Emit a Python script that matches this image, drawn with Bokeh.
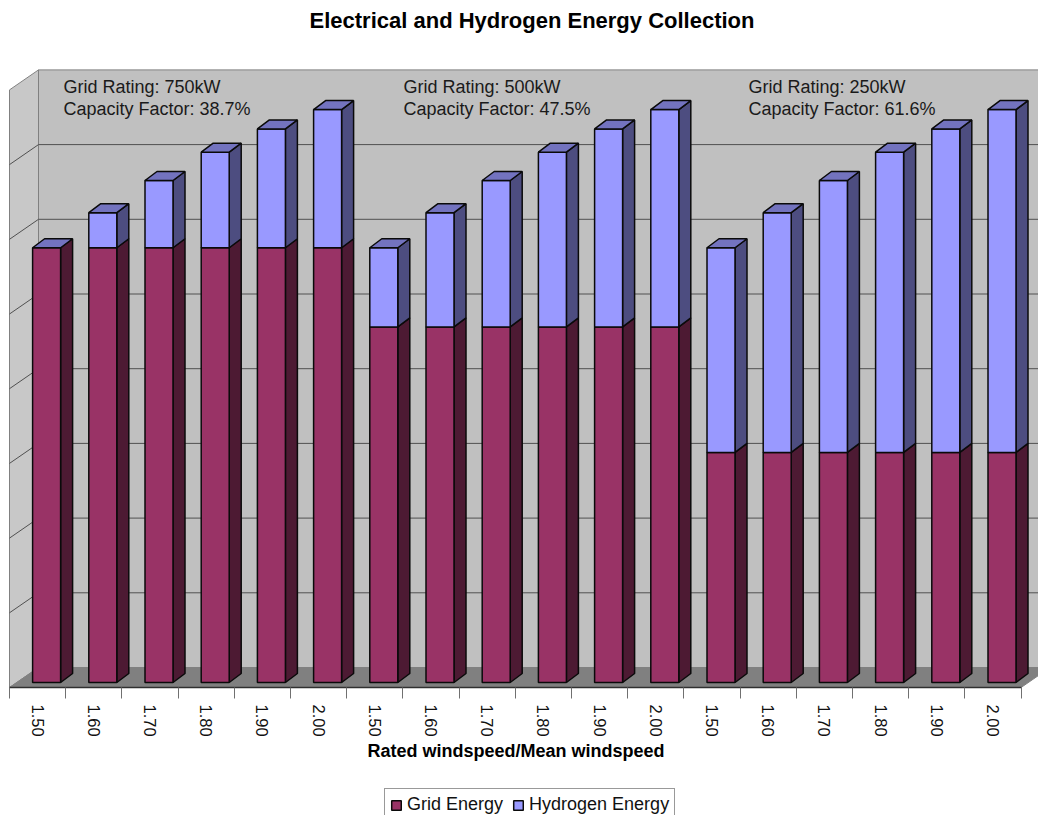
import numpy as np
from bokeh.plotting import figure
from bokeh.models import (ColumnDataSource, FixedTicker, Legend, LegendItem, Range1d, Label)
from bokeh.embed import file_html
from bokeh.resources import INLINE

speeds = ["1.50", "1.60", "1.70", "1.80", "1.90", "2.00"] * 3
grid_energy = [5.82] * 6 + [4.76] * 6 + [3.08] * 6
hydrogen_energy = [0.00, 0.47, 0.90, 1.28, 1.59, 1.85,
                   1.06, 1.53, 1.96, 2.34, 2.65, 2.91,
                   2.74, 3.21, 3.64, 4.02, 4.33, 4.59]
notes = [("Grid Rating: 750kW", "Capacity Factor: 38.7%"),
         ("Grid Rating: 500kW", "Capacity Factor: 47.5%"),
         ("Grid Rating: 250kW", "Capacity Factor: 61.6%")]

PX_X, PX_Y = 56.2, 74.7
W, H = 1038, 815
X0, Y0 = 9, 687     # picture position of the value 0 / first category edge
WALL_DX, WALL_DY = 29 / PX_X, 20 / PX_Y
BAR_DX, BAR_DY = 9 / PX_X, 5 / PX_Y
DEPTH_X, DEPTH_Y = 12 / PX_X, 9 / PX_Y
BAR_W = 28 / PX_X
N = len(speeds)
FONT = "Liberation Sans"

p = figure(width=W, height=H, output_backend="svg", toolbar_location=None,
           min_border_left=0, min_border_right=0, min_border_top=0, min_border_bottom=0,
           x_range=Range1d(-X0 / PX_X, (W - X0) / PX_X), y_range=Range1d(-(H - Y0) / PX_Y, Y0 / PX_Y),
           outline_line_color=None)
p.grid.visible = False
p.yaxis.visible = False

WALL_LINE = "#808080"
p.patch([0, WALL_DX, WALL_DX, 0], [0, WALL_DY, 8 + WALL_DY, 8],
        fill_color="#C8C8C8", line_color=WALL_LINE, line_width=1)
p.patch([WALL_DX, N + WALL_DX, N + WALL_DX, WALL_DX], [WALL_DY, WALL_DY, 8 + WALL_DY, 8 + WALL_DY],
        fill_color="#C0C0C0", line_color=WALL_LINE, line_width=1)
p.patch([0, N, N + WALL_DX, WALL_DX], [0, 0, WALL_DY, WALL_DY], fill_color="#808080", line_color=WALL_LINE)
levels = np.arange(1, 8)
p.multi_line([[0, WALL_DX, N + WALL_DX] for _ in levels],
             [[v, v + WALL_DY, v + WALL_DY] for v in levels], line_color="#505050", line_width=1)

idx = np.arange(N)
g = np.array(grid_energy)
h = np.array(hydrogen_energy)
left = idx + 0.5 + BAR_DX - BAR_W / 2
right = left + BAR_W


def side_faces(bottom, top):
    xs = [[r, r + DEPTH_X, r + DEPTH_X, r] for r in right]
    ys = [[b, b + DEPTH_Y, t + DEPTH_Y, t] for b, t in zip(bottom, top)]
    return xs, ys


def top_faces(top):
    xs = [[l, l + DEPTH_X, r + DEPTH_X, r] for l, r in zip(left, right)]
    ys = [[t, t + DEPTH_Y, t + DEPTH_Y, t] for t in top]
    return xs, ys


g_bot = np.full(N, BAR_DY)
g_top = g + BAR_DY
t_top = g + h + BAR_DY

OUT = dict(line_color="#0A0A0A", line_width=1.5)
xs, ys = side_faces(g_bot, g_top)
p.patches(xs, ys, fill_color="#4D1A33", **OUT)
r_grid = p.vbar(x="x", bottom="b", top="t", width=BAR_W, fill_color="#993366",
                source=ColumnDataSource(dict(x=idx + 0.5 + BAR_DX, b=g_bot, t=g_top)), **OUT)
mask = h > 0
xs, ys = side_faces(g_top, t_top)
p.patches([x for x, m in zip(xs, mask) if m], [y for y, m in zip(ys, mask) if m], fill_color="#4D4D80", **OUT)
r_h = p.vbar(x="x", bottom="b", top="t", width=BAR_W, fill_color="#9999FF",
             source=ColumnDataSource(dict(x=(idx + 0.5 + BAR_DX)[mask], b=g_top[mask], t=t_top[mask])), **OUT)
xs, ys = top_faces(t_top)
p.patches(xs, ys, fill_color="#7373BF", **OUT)

ax = p.xaxis[0]
ax.fixed_location = 0
ax.ticker = FixedTicker(ticks=list(idx + 0.5), minor_ticks=list(range(N + 1)))
ax.major_label_overrides = {float(i + 0.5): s for i, s in enumerate(speeds)}
ax.major_label_orientation = -np.pi / 2
ax.major_label_text_font = FONT
ax.major_label_text_font_size = "16.5px"
ax.major_label_text_color = "#111111"
ax.major_label_standoff = 6
ax.major_tick_line_color = None
ax.major_tick_in = 0
ax.major_tick_out = 0
ax.minor_tick_line_color = "#707070"
ax.minor_tick_in = 0
ax.minor_tick_out = 11
ax.axis_line_color = "#303030"
ax.axis_line_width = 1.5
ax.bounds = (0, N)

p.add_layout(Label(x=(309 - X0) / PX_X, y=(Y0 - 20) / PX_Y, text="Electrical and Hydrogen Energy Collection",
                   text_font=FONT, text_font_size="22px", text_font_style="bold", text_color="black",
                   text_baseline="middle"))
p.add_layout(Label(x=(367 - X0) / PX_X, y=(Y0 - 750) / PX_Y, text="Rated windspeed/Mean windspeed",
                   text_font=FONT, text_font_size="18px", text_font_style="bold", text_color="black",
                   text_baseline="middle"))

for (a, b), start in zip(notes, [(63 - X0) / PX_X, (403 - X0) / PX_X, (748 - X0) / PX_X]):
    for line, vy in ((a, 591 / PX_Y), (b, 569 / PX_Y)):
        p.add_layout(Label(x=start, y=vy, text=line, text_font=FONT, text_font_size="18px",
                           text_color="#1A1A1A", text_baseline="bottom"))

leg = Legend(items=[LegendItem(label="Grid Energy", renderers=[r_grid]),
                    LegendItem(label="Hydrogen Energy", renderers=[r_h])],
             orientation="horizontal", location=(384, -6), border_line_color="#333333",
             label_text_font=FONT, label_text_font_size="18px", label_text_color="#111111",
             glyph_width=12, glyph_height=12, label_standoff=5, spacing=9,
             padding=5, margin=0, label_height=16)
p.add_layout(leg, "center")

open("out.html", "w").write(file_html(p, INLINE))
